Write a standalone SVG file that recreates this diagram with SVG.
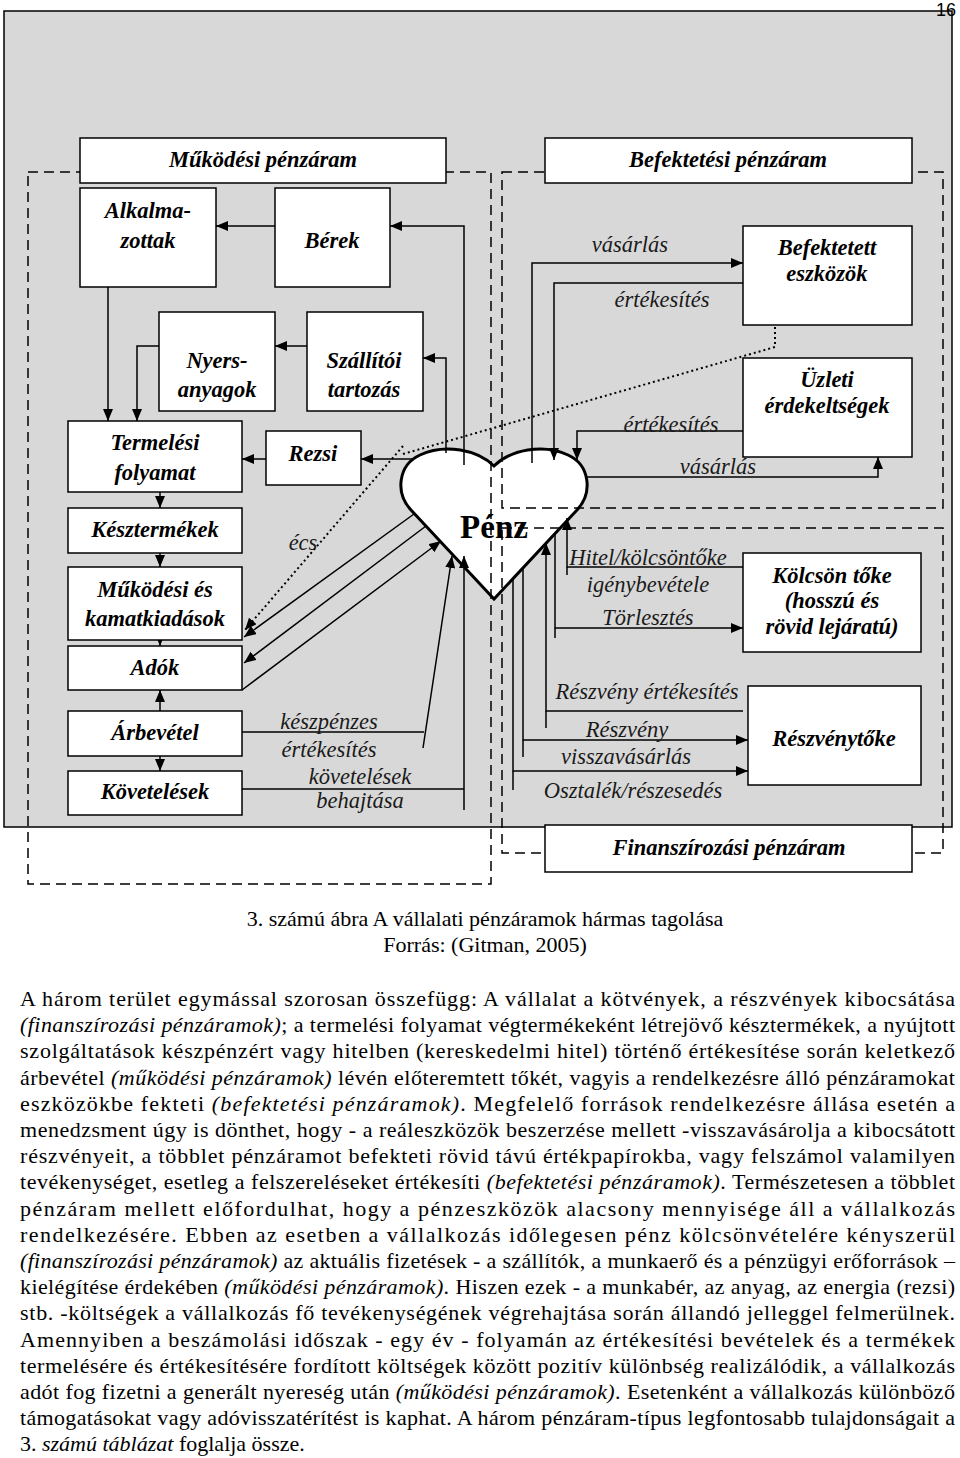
<svg xmlns="http://www.w3.org/2000/svg" width="960" height="1458" viewBox="0 0 960 1458">
<defs>
<marker id="ah" viewBox="0 0 12 10" refX="12" refY="5" markerWidth="12" markerHeight="10" markerUnits="userSpaceOnUse" orient="auto"><path d="M0,0 L12,5 L0,10 z" fill="#000"/></marker>
<style>
.bg{fill:#d8d8d8;stroke:#000;stroke-width:1.5}
.box{fill:#fff;stroke:#000;stroke-width:1.5}
.lbl{font-family:"Liberation Serif","Times New Roman",serif;font-size:22.5px;font-style:italic;font-weight:bold;text-anchor:middle;fill:#000}
.flw{font-family:"Liberation Serif","Times New Roman",serif;font-size:22.5px;font-style:italic;text-anchor:middle;fill:#1a1a1a}
.con{fill:none;stroke:#000;stroke-width:1.5}
.arr{marker-end:url(#ah)}
.dash{fill:none;stroke:#000;stroke-width:1.5;stroke-dasharray:10 6}
.dot{fill:none;stroke:#000;stroke-width:2;stroke-dasharray:2 3}
.body{font-family:"Liberation Serif","Times New Roman",serif;font-size:22px;fill:#000}
.it{font-style:italic}
</style>
</defs>
<rect width="960" height="1458" fill="#fff"/>
<rect class="bg" x="4" y="11" width="948" height="816"/>
<text x="946" y="16" font-family="Liberation Sans, Arial, sans-serif" font-size="18" text-anchor="middle" fill="#000">16</text>

<g id="penz">
<path d="M494,599 L411,510 C395,493 398,465 420,455 C445,443 478,450 494,466 C510,450 543,443 568,455 C590,465 593,493 577,510 Z" fill="#fff" stroke="#000" stroke-width="3"/>
<text x="494" y="538" font-family="Liberation Serif, Times New Roman, serif" font-size="33" font-weight="bold" text-anchor="middle">Pénz</text>
</g>

<g id="connectors">
<path class="con arr" d="M275,226 H216"/>
<path class="con arr" d="M464,465 V226 H390"/>
<path class="con arr" d="M446,453 V358 H423"/>
<path class="con arr" d="M307,346 H275"/>
<path class="con arr" d="M159,346 H137 V421"/>
<path class="con arr" d="M108,278 V421"/>
<path class="con arr" d="M266,459 H242"/>
<path class="con arr" d="M413,459 H361"/>
<path class="con arr" d="M160,487 V508"/>
<path class="con arr" d="M160,548 V567"/>
<path class="con arr" d="M160,634 V646"/>
<path class="con arr" d="M160,713 V690"/>
<path class="con arr" d="M160,752 V771"/>
<path class="con arr" d="M414,514 L244,637"/>
<path class="con arr" d="M426,526 L244,663"/>
<path class="con arr" d="M242,690 L441,541"/>
<path class="con" d="M242,732 H424"/>
<path class="con arr" d="M423,748 L452,556"/>
<path class="con" d="M242,789 H464"/>
<path class="con arr" d="M464,810 V556"/>
<path class="dot arr" d="M403,446 L245,630"/>
<path class="dot" d="M403,454 L775,347 V316"/>
<path class="con arr" d="M532,463 V263 H743"/>
<path class="con arr" d="M743,283 H554 V460"/>
<path class="con arr" d="M743,431 H577 V460"/>
<path class="con arr" d="M586,477 H878 V457"/>
<path class="con arr" d="M743,567 H567 V518"/>
<path class="con" d="M567,567 V575"/>
<path class="con arr" d="M555,533 V628 H743"/>
<path class="con" d="M555,628 V638"/>
<path class="con arr" d="M743,711 H546 V543"/>
<path class="con" d="M546,711 V728"/>
<path class="con arr" d="M523,568 V740 H748"/>
<path class="con" d="M523,740 V757"/>
<path class="con arr" d="M513,579 V771 H748"/>
<path class="con" d="M513,771 V790"/>
<text class="flw" x="630" y="252">vásárlás</text>
<text class="flw" x="662" y="307">értékesítés</text>
<text class="flw" x="671" y="432">értékesítés</text>
<text class="flw" x="718" y="474">vásárlás</text>
<text class="flw" x="648" y="565">Hitel/kölcsöntőke</text>
<text class="flw" x="648" y="592">igénybevétele</text>
<text class="flw" x="648" y="625">Törlesztés</text>
<text class="flw" x="647" y="699">Részvény értékesítés</text>
<text class="flw" x="627" y="737">Részvény</text>
<text class="flw" x="626" y="764">visszavásárlás</text>
<text class="flw" x="633" y="798">Osztalék/részesedés</text>
<text class="flw" x="329" y="729">készpénzes</text>
<text class="flw" x="329" y="757">értékesítés</text>
<text class="flw" x="360" y="784">követelések</text>
<text class="flw" x="360" y="808">behajtása</text>
<text class="flw" x="303" y="550">écs</text>
</g>

<g id="regions">
<rect class="dash" x="28" y="172" width="463" height="712"/>
<rect class="dash" x="502" y="172" width="441" height="336"/>
<rect class="dash" x="502" y="528" width="441" height="325"/>
</g>

<g id="mukodesi-penzaram"><rect class="box" x="80" y="138" width="366" height="45"/><text class="lbl" x="263" y="167">Működési pénzáram</text></g>
<g id="befektetesi-penzaram"><rect class="box" x="545" y="138" width="367" height="45"/><text class="lbl" x="728" y="167">Befektetési pénzáram</text></g>
<g id="finanszirozasi-penzaram"><rect class="box" x="545" y="825" width="367" height="47"/><text class="lbl" x="729" y="855">Finanszírozási pénzáram</text></g>
<g id="alkalmazottak"><rect class="box" x="80" y="188" width="136" height="99"/><text class="lbl" x="148" y="218">Alkalma-</text><text class="lbl" x="148" y="248">zottak</text></g>
<g id="berek"><rect class="box" x="275" y="188" width="115" height="99"/><text class="lbl" x="332" y="248">Bérek</text></g>
<g id="nyersanyagok"><rect class="box" x="159" y="312" width="116" height="99"/><text class="lbl" x="217" y="368">Nyers-</text><text class="lbl" x="217" y="397">anyagok</text></g>
<g id="szallitoi-tartozas"><rect class="box" x="307" y="312" width="116" height="99"/><text class="lbl" x="364" y="368">Szállítói</text><text class="lbl" x="364" y="397">tartozás</text></g>
<g id="termelesi-folyamat"><rect class="box" x="68" y="421" width="174" height="71"/><text class="lbl" x="155" y="450">Termelési</text><text class="lbl" x="155" y="480">folyamat</text></g>
<g id="rezsi"><rect class="box" x="266" y="431" width="95" height="54"/><text class="lbl" x="313" y="461">Rezsi</text></g>
<g id="kesztermekek"><rect class="box" x="68" y="508" width="174" height="45"/><text class="lbl" x="155" y="537">Késztermékek</text></g>
<g id="mukodesi-kamatkiadasok"><rect class="box" x="68" y="567" width="174" height="73"/><text class="lbl" x="155" y="597">Működési és</text><text class="lbl" x="155" y="626">kamatkiadások</text></g>
<g id="adok"><rect class="box" x="68" y="646" width="174" height="44"/><text class="lbl" x="155" y="675">Adók</text></g>
<g id="arbevetel"><rect class="box" x="68" y="711" width="174" height="45"/><text class="lbl" x="155" y="740">Árbevétel</text></g>
<g id="kovetelesek"><rect class="box" x="68" y="771" width="174" height="44"/><text class="lbl" x="155" y="799">Követelések</text></g>
<g id="befektetett-eszkozok"><rect class="box" x="743" y="226" width="169" height="99"/><text class="lbl" x="827" y="255">Befektetett</text><text class="lbl" x="827" y="281">eszközök</text></g>
<g id="uzleti-erdekeltsegek"><rect class="box" x="743" y="358" width="169" height="99"/><text class="lbl" x="827" y="387">Üzleti</text><text class="lbl" x="827" y="413">érdekeltségek</text></g>
<g id="kolcson-toke"><rect class="box" x="743" y="553" width="178" height="99"/><text class="lbl" x="832" y="583">Kölcsön tőke</text><text class="lbl" x="832" y="608">(hosszú és</text><text class="lbl" x="832" y="634">rövid lejáratú)</text></g>
<g id="reszvenytoke"><rect class="box" x="748" y="686" width="173" height="99"/><text class="lbl" x="834" y="746">Részvénytőke</text></g>

<g id="caption">
<text class="body" x="485" y="926" text-anchor="middle" font-size="22.5">3. számú ábra A vállalati pénzáramok hármas tagolása</text>
<text class="body" x="485" y="952" text-anchor="middle" font-size="22.5">Forrás: (Gitman, 2005)</text>
</g>

<g id="body-text">
<text class="body" x="20" y="1006" textLength="935" lengthAdjust="spacing">A három terület egymással szorosan összefügg: A vállalat a kötvények, a részvények kibocsátása</text>
<text class="body" x="20" y="1032" textLength="935" lengthAdjust="spacing"><tspan class="it">(finanszírozási pénzáramok)</tspan>; a termelési folyamat végtermékeként létrejövő késztermékek, a nyújtott</text>
<text class="body" x="20" y="1058" textLength="935" lengthAdjust="spacing">szolgáltatások készpénzért vagy hitelben (kereskedelmi hitel) történő értékesítése során keletkező</text>
<text class="body" x="20" y="1085" textLength="935" lengthAdjust="spacing">árbevétel <tspan class="it">(működési pénzáramok)</tspan> lévén előteremtett tőkét, vagyis a rendelkezésre álló pénzáramokat</text>
<text class="body" x="20" y="1111" textLength="935" lengthAdjust="spacing">eszközökbe fekteti <tspan class="it">(befektetési pénzáramok)</tspan>. Megfelelő források rendelkezésre állása esetén a</text>
<text class="body" x="20" y="1137" textLength="935" lengthAdjust="spacing">menedzsment úgy is dönthet, hogy - a reáleszközök beszerzése mellett -visszavásárolja a kibocsátott</text>
<text class="body" x="20" y="1163" textLength="935" lengthAdjust="spacing">részvényeit, a többlet pénzáramot befekteti rövid távú értékpapírokba, vagy felszámol valamilyen</text>
<text class="body" x="20" y="1189" textLength="935" lengthAdjust="spacing">tevékenységet, esetleg a felszereléseket értékesíti <tspan class="it">(befektetési pénzáramok)</tspan>. Természetesen a többlet</text>
<text class="body" x="20" y="1216" textLength="935" lengthAdjust="spacing">pénzáram mellett előfordulhat, hogy a pénzeszközök alacsony mennyisége áll a vállalkozás</text>
<text class="body" x="20" y="1242" textLength="935" lengthAdjust="spacing">rendelkezésére. Ebben az esetben a vállalkozás időlegesen pénz kölcsönvételére kényszerül</text>
<text class="body" x="20" y="1268" textLength="935" lengthAdjust="spacing"><tspan class="it">(finanszírozási pénzáramok)</tspan> az aktuális fizetések - a szállítók, a munkaerő és a pénzügyi erőforrások –</text>
<text class="body" x="20" y="1294" textLength="935" lengthAdjust="spacing">kielégítése érdekében <tspan class="it">(működési pénzáramok)</tspan>. Hiszen ezek - a munkabér, az anyag, az energia (rezsi)</text>
<text class="body" x="20" y="1320" textLength="935" lengthAdjust="spacing">stb. -költségek a vállalkozás fő tevékenységének végrehajtása során állandó jelleggel felmerülnek.</text>
<text class="body" x="20" y="1347" textLength="935" lengthAdjust="spacing">Amennyiben a beszámolási időszak - egy év - folyamán az értékesítési bevételek és a termékek</text>
<text class="body" x="20" y="1373" textLength="935" lengthAdjust="spacing">termelésére és értékesítésére fordított költségek között pozitív különbség realizálódik, a vállalkozás</text>
<text class="body" x="20" y="1399" textLength="935" lengthAdjust="spacing">adót fog fizetni a generált nyereség után <tspan class="it">(működési pénzáramok)</tspan>. Esetenként a vállalkozás különböző</text>
<text class="body" x="20" y="1425" textLength="935" lengthAdjust="spacing">támogatásokat vagy adóvisszatérítést is kaphat. A három pénzáram-típus legfontosabb tulajdonságait a</text>
<text class="body" x="20" y="1451">3. <tspan class="it">számú táblázat</tspan> foglalja össze.</text>
</g>
</svg>
